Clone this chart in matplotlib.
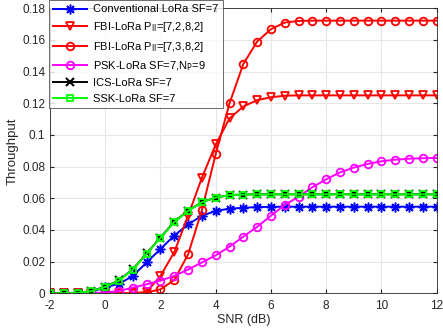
import numpy as np
import matplotlib
matplotlib.use("Agg")
import matplotlib.pyplot as plt

plt.rcParams['font.family'] = ['Liberation Sans', 'DejaVu Sans']
plt.rcParams['axes.unicode_minus'] = False

snr = np.arange(-2, 12.01, 0.5)

conventional = [0, 0.0001, 0.0003, 0.0008, 0.0038, 0.006, 0.011, 0.0195, 0.028, 0.0365,
                0.0435, 0.049, 0.052, 0.0535, 0.054, 0.0545, 0.0546, 0.0547, 0.0547, 0.0547,
                0.0547, 0.0547, 0.0547, 0.0547, 0.0547, 0.0547, 0.0547, 0.0547, 0.0547]
fbi_2 = [0, 0, 0, 0, 0, 0, 0.0001, 0.0008, 0.011, 0.026, 0.049, 0.073, 0.094, 0.1105,
         0.118, 0.122, 0.1238, 0.1248, 0.125, 0.125, 0.125, 0.125, 0.125, 0.125, 0.125,
         0.125, 0.125, 0.125, 0.125]
fbi_3 = [0, 0, 0, 0, 0, 0, 0, 0.0005, 0.0025, 0.0084, 0.0246, 0.0526, 0.088, 0.12,
         0.1449, 0.159, 0.1668, 0.171, 0.172, 0.1722, 0.1722, 0.1722, 0.1722, 0.1722,
         0.1722, 0.1722, 0.1722, 0.1722, 0.1722]
psk = [0, 0, 0, 0.0001, 0.0005, 0.0015, 0.0036, 0.0057, 0.008, 0.011, 0.015, 0.0195,
       0.024, 0.0294, 0.0358, 0.042, 0.049, 0.0558, 0.061, 0.067, 0.072, 0.0764, 0.0794,
       0.0817, 0.0834, 0.0844, 0.085, 0.0853, 0.0855]
ics = [0, 0.0001, 0.0004, 0.0014, 0.0042, 0.0082, 0.0152, 0.0252, 0.0352, 0.0452,
       0.0522, 0.0575, 0.0605, 0.062, 0.0624, 0.0625, 0.0625, 0.0625, 0.0625, 0.0625,
       0.0625, 0.0625, 0.0625, 0.0625, 0.0625, 0.0625, 0.0625, 0.0625, 0.0625]
ssk = [0, 0.0001, 0.0003, 0.0013, 0.004, 0.008, 0.015, 0.025, 0.035, 0.045, 0.052,
       0.0575, 0.0605, 0.062, 0.0624, 0.0625, 0.0625, 0.0625, 0.0625, 0.0625, 0.0625,
       0.0625, 0.0625, 0.0625, 0.0625, 0.0625, 0.0625, 0.0625, 0.0625]

labels = ["Conventional LoRa SF=7",
          "FBI-LoRa P$_{\\rm II}$=[7,2,8,2]",
          "FBI-LoRa P$_{\\rm II}$=[7,3,8,2]",
          "PSK-LoRa SF=7,N$_{\\rm P}$=9",
          "ICS-LoRa SF=7",
          "SSK-LoRa SF=7"]

fig = plt.figure(figsize=(4.43, 3.32), dpi=100)
ax = fig.add_axes([50/443, 1-293.3/332, (436.7-50)/443, (293.3-8.3)/332])

lw = 1.4
ms = 5.5
ax.plot(snr, conventional, color='#0000ff', marker=(8, 2, 0), ms=7, mew=1.1, lw=lw, label=labels[0])
ax.plot(snr, fbi_2, color='#ff0000', marker='v', ms=ms, mfc='none', mew=1.3, lw=lw, label=labels[1])
ax.plot(snr, fbi_3, color='#ff0000', marker='o', ms=ms, mfc='none', mew=1.3, lw=lw, label=labels[2])
ax.plot(snr, psk, color='#ff00ff', marker='o', ms=ms, mfc='none', mew=1.3, lw=lw, label=labels[3])
ax.plot(snr, ics, color='black', marker='x', ms=ms, mew=1.5, lw=lw, label=labels[4])
ax.plot(snr, ssk, color='#00ff00', marker='s', ms=4.5, mfc='none', mew=1.3, lw=lw, label=labels[5])

ax.set_xlim(-2, 12)
ax.set_ylim(0, 0.18)
ax.set_xticks(np.arange(-2, 13, 2))
ax.set_yticks(np.arange(0, 0.181, 0.02))
ax.set_yticklabels(['0', '0.02', '0.04', '0.06', '0.08', '0.1', '0.12', '0.14', '0.16', '0.18'])
ax.grid(True, color='#e6e6e6', lw=0.8)
ax.set_axisbelow(True)
ax.tick_params(direction='in', labelsize=8.5, colors='#262626', top=True, right=True, length=3)
ax.tick_params(axis='x', pad=5)
for s in ax.spines.values():
    s.set_color('#262626')
    s.set_linewidth(0.6)
ax.set_xlabel('SNR (dB)', fontsize=9, color='#262626', labelpad=1)
ax.set_ylabel('Throughput', fontsize=9.5, color='#262626', labelpad=2)

leg = ax.legend(loc='upper left', bbox_to_anchor=(49/443, 1.0), bbox_transform=fig.transFigure,
                fontsize=8, frameon=True, fancybox=False, edgecolor='#262626',
                borderaxespad=0, handlelength=3.0, labelspacing=0.5, borderpad=0.4,
                handletextpad=0.6)
leg.get_frame().set_linewidth(0.6)

fig.savefig('out.png', dpi=100)
